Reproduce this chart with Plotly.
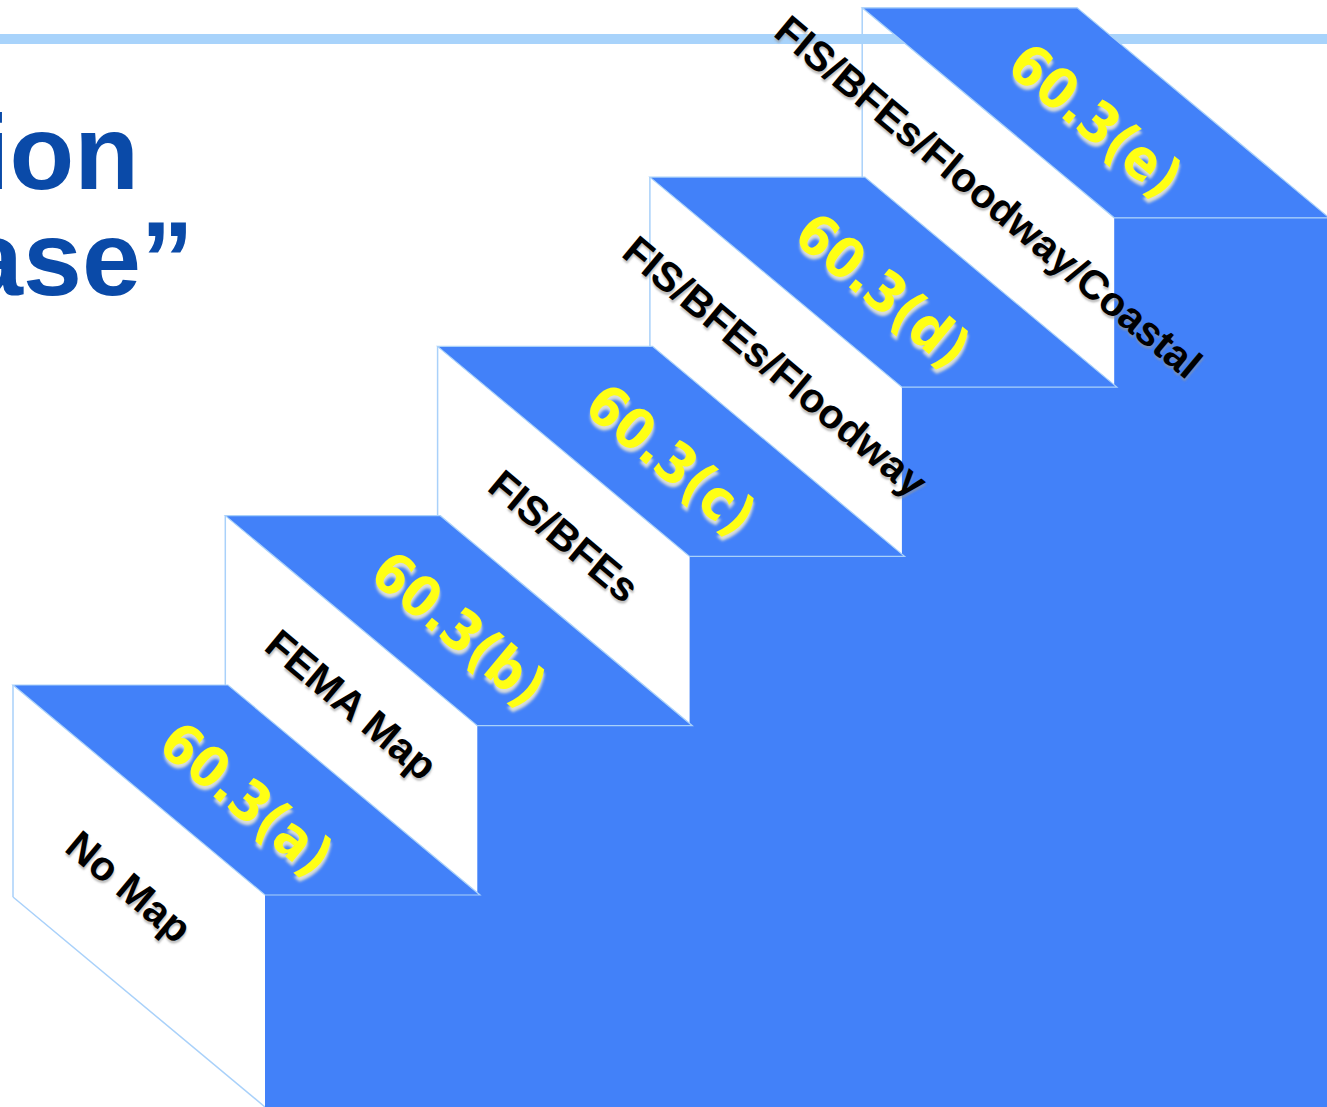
import math
import plotly.graph_objects as go

# ---- data ----
codes = ["60.3(a)", "60.3(b)", "60.3(c)", "60.3(d)", "60.3(e)"]
labels = ["No Map", "FEMA Map", "FIS/BFEs", "FIS/BFEs/Floodway",
          "FIS/BFEs/Floodway/Coastal"]
title_fragments = ["ion", "ase\u201d"]

# ---- geometry (pixel space) ----
W, H = 1327, 1107
x0, y0 = 13, 685          # back-left corner of first tread
step_dx, step_dy = 212.3, 169.3
tread_w = 215
depth_x, depth_y = 252, 210
first_riser = 212

BLUE = "#4281f9"
EDGE = "#a9d1fa"
LINE = "#a8d3fb"
TITLE = "#0a4aa8"
ang = math.degrees(math.atan2(depth_y, depth_x))

shapes = []


def poly(pts, fill, line_color=None, lw=0):
    p = "M " + " L ".join(f"{x:.1f},{y:.1f}" for x, y in pts) + " Z"
    return dict(type="path", path=p, xref="x", yref="y", fillcolor=fill,
                line=dict(color=line_color or fill, width=lw), layer="above")


steps = []
for i in range(len(codes)):
    sx = x0 + step_dx * i
    sy = y0 - step_dy * i
    h = first_riser if i == 0 else step_dy
    steps.append((sx, sy, h))

# white risers
for sx, sy, h in steps:
    shapes.append(poly([(sx, sy), (sx + depth_x, sy + depth_y),
                        (sx + depth_x, sy + depth_y + h), (sx, sy + h)],
                       "white"))
    shapes.append(dict(type="line", x0=sx, y0=sy, x1=sx, y1=sy + h,
                       xref="x", yref="y", line=dict(color=EDGE, width=1.5)))
# bottom diagonal of the first riser
sx, sy, h = steps[0]
shapes.append(dict(type="line", x0=sx, y0=sy + h, x1=sx + depth_x, y1=H,
                   xref="x", yref="y", line=dict(color=EDGE, width=1.5)))

# horizontal rule behind the staircase
shapes.append(dict(type="line", x0=0, x1=W, y0=39, y1=39, xref="x", yref="y",
                   line=dict(color=LINE, width=10)))

# blue body
body = [(steps[0][0] + depth_x, H)]
for i, (sx, sy, h) in enumerate(steps):
    fx = sx + depth_x
    fy = sy + depth_y
    body.append((fx, fy))
    nx = (steps[i + 1][0] + depth_x) if i + 1 < len(steps) else W + 20
    body.append((nx, fy))
body.append((W + 20, H + 5))
shapes.append(poly(body, BLUE))

# blue treads
for sx, sy, h in steps:
    shapes.append(poly([(sx, sy), (sx + tread_w, sy),
                        (sx + tread_w + depth_x, sy + depth_y),
                        (sx + depth_x, sy + depth_y)], BLUE, EDGE, 1.2))

annotations = []
for i, (sx, sy, h) in enumerate(steps):
    cx = sx + tread_w / 2 + depth_x / 2
    cy = sy + depth_y / 2 + 8
    annotations.append(dict(
        x=cx, y=cy, xref="x", yref="y", text="<b>" + codes[i] + "</b>",
        showarrow=False, textangle=ang, xanchor="center", yanchor="middle",
        font=dict(family="DejaVu Sans Condensed, Liberation Sans Narrow, Arial Narrow, sans-serif",
                  size=56, color="#ffff14",
                  shadow="3px 3px 3px rgba(225,225,215,0.95)")))
    lx = sx + depth_x / 2 - (10 if i == 0 else 0)
    ly = sy + depth_y / 2 + step_dy / 2 + (12 if i == 0 else 0)
    annotations.append(dict(
        x=lx, y=ly, xref="x", yref="y", text="<b>" + labels[i] + "</b>",
        showarrow=False, textangle=ang, xanchor="center", yanchor="middle",
        font=dict(family="Liberation Sans, Arial, sans-serif", size=41,
                  color="black", shadow="2px 2px 2px rgba(150,150,150,0.6)")))

for txt, yc, xr in zip(title_fragments, [152, 258], [141, 196]):
    annotations.append(dict(
        x=xr, y=yc, xref="x", yref="y", text="<b>" + txt + "</b>",
        showarrow=False, xanchor="right", yanchor="middle",
        font=dict(family="Liberation Sans, Arial, sans-serif", size=106,
                  color=TITLE)))

fig = go.Figure()
fig.update_layout(
    width=W, height=H, margin=dict(l=0, r=0, t=0, b=0),
    paper_bgcolor="white", plot_bgcolor="white",
    xaxis=dict(range=[0, W], visible=False, fixedrange=True),
    yaxis=dict(range=[H, 0], visible=False, fixedrange=True),
    shapes=shapes, annotations=annotations, showlegend=False,
)
fig.write_html("out.html")
